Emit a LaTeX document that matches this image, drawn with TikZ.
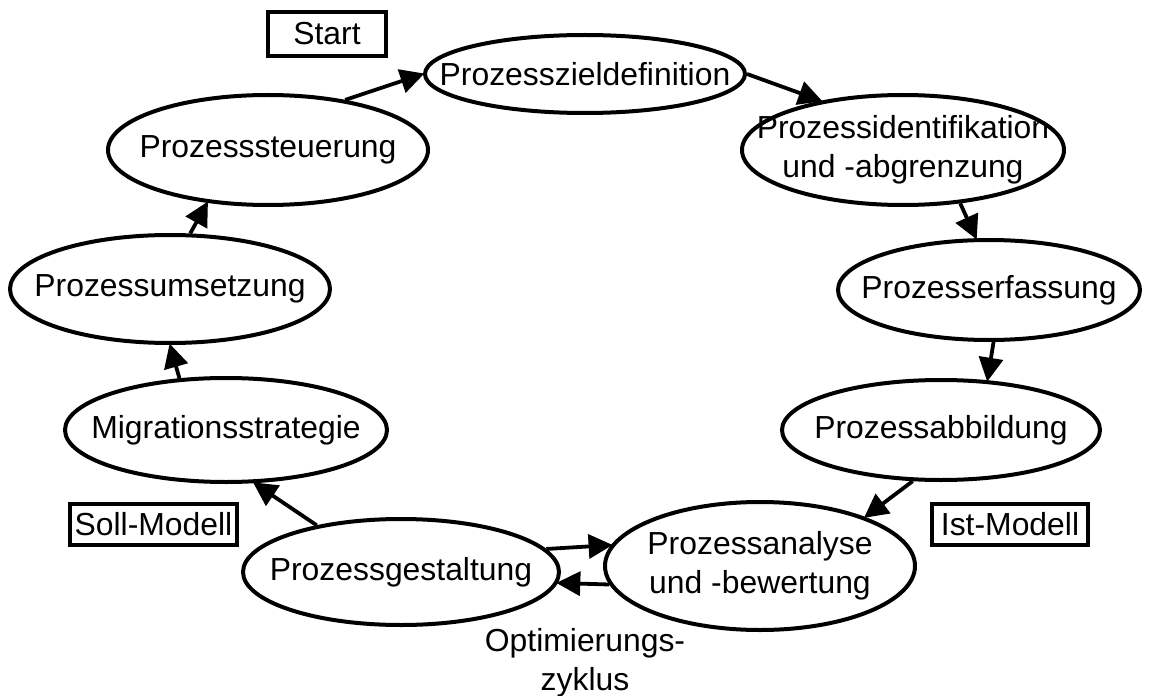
\documentclass[tikz,border=0pt]{standalone}
\usepackage{fontspec}
\setmainfont{Liberation Sans}
\usetikzlibrary{shapes.geometric,arrows.meta}
\begin{document}
\begin{tikzpicture}[x=1bp,y=-1bp,
  txt/.style={font=\fontsize{32}{39.5}\selectfont, align=center, inner sep=0pt},
  phase/.style={ellipse, draw, line width=4bp, inner sep=0pt},
  tag/.style={draw, line width=3.4bp, inner sep=0pt, font=\fontsize{32}{39.5}\selectfont},
  flow/.style={line width=3.8bp, -{Triangle[length=24bp,width=24bp]}, shorten >=-1.5bp}
]
\useasboundingbox (0,0) rectangle (1152,696);

% process phases around the cycle
\node[phase, minimum width=320bp, minimum height=78bp, label={[txt]center:Prozesszieldefinition}] (zd) at (585,74) {};
\node[phase, minimum width=322bp, minimum height=110bp, label={[txt]center:Prozessidentifikation\\und -abgrenzung}] (id) at (903,150) {};
\node[phase, minimum width=302bp, minimum height=100bp, label={[txt]center:Prozesserfassung}] (erf) at (989,290) {};
\node[phase, minimum width=318bp, minimum height=100bp, label={[txt]center:Prozessabbildung}] (abb) at (941,430) {};
\node[phase, minimum width=310bp, minimum height=128bp, label={[txt]center:Prozessanalyse\\und -bewertung}] (ana) at (760,566) {};
\node[phase, minimum width=316bp, minimum height=106bp, label={[txt]center:Prozessgestaltung}] (ges) at (401,572) {};
\node[phase, minimum width=322bp, minimum height=104bp, label={[txt]center:Migrationsstrategie}] (mig) at (226,430) {};
\node[phase, minimum width=320bp, minimum height=108bp, label={[txt]center:Prozessumsetzung}] (ums) at (170,289) {};
\node[phase, minimum width=320bp, minimum height=110bp, label={[txt]center:Prozesssteuerung}] (st) at (268,150) {};

% boxed annotations
\node[tag, minimum width=118bp, minimum height=44bp] (start) at (327,34) {Start};
\node[tag, minimum width=167bp, minimum height=41bp] (soll) at (153.5,524.5) {Soll-Modell};
\node[tag, minimum width=156bp, minimum height=41bp] (ist) at (1010,524.5) {Ist-Modell};
\node[txt] (opt) at (585,663) {Optimierungs-\\zyklus};

% cycle connectors
\draw[flow] (st.33) -- (zd.180);
\draw[flow] (zd.0) -- (id.149);
\draw[flow] (id.-43) -- (erf.104);
\draw[flow] (erf.-85.5) -- (abb.47);
\draw[flow] (abb.-119) -- (ana.25);
\draw[flow] (ges.9.4) -- (ana.172.4);
\draw[flow] (ana.187.6) -- (ges.-4.7);
\draw[flow] (ges.151) -- (mig.-62);
\draw[flow] (mig.132) -- (ums.-90);
\draw[flow] (ums.70) -- (st.221);
\end{tikzpicture}
\end{document}
